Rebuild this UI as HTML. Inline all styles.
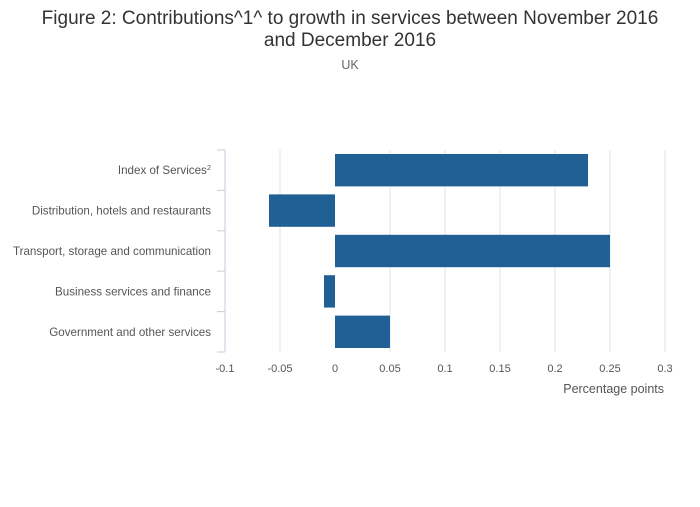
<!DOCTYPE html>
<html><head><meta charset="utf-8"><style>
body{margin:0;background:#fff;font-family:"Liberation Sans",sans-serif;}
svg text{font-family:"Liberation Sans",sans-serif;}
</style></head><body>
<svg id="chart" width="700" height="502" xmlns="http://www.w3.org/2000/svg">
<text x="350" y="24" text-anchor="middle" font-size="19" fill="#333">Figure 2: Contributions^1^ to growth in services between November 2016</text>
<text x="350" y="46" text-anchor="middle" font-size="19" fill="#333">and December 2016</text>
<text x="350" y="69" text-anchor="middle" font-size="12.5" fill="#666">UK</text>
<g id="grid"></g><g id="bars"></g><g id="axes"></g>
<text x="664" y="393" text-anchor="end" font-size="12.5" fill="#555">Percentage points</text>
</svg>
<script>
const categories=["Index of Services","Distribution, hotels and restaurants","Transport, storage and communication","Business services and finance","Government and other services"];
const values=[0.23,-0.06,0.25,-0.01,0.05];
const ticks=[-0.1,-0.05,0,0.05,0.1,0.15,0.2,0.25,0.3];
const tickLabels=["-0.1","-0.05","0","0.05","0.1","0.15","0.2","0.25","0.3"];
const NS="http://www.w3.org/2000/svg";
const x0=225,x1=665,yTop=150,yBot=352,xmin=-0.1,xmax=0.3;
const xs=v=>x0+(v-xmin)/(xmax-xmin)*(x1-x0);
const rowH=(yBot-yTop)/categories.length;
const ys=i=>yTop+i*rowH;
function mk(t,a,p){const e=document.createElementNS(NS,t);for(const k in a)e.setAttribute(k,a[k]);p.appendChild(e);return e;}
const grid=document.getElementById('grid'),bars=document.getElementById('bars'),axes=document.getElementById('axes');
ticks.forEach((t,i)=>{
  if(i>0&&t!==0){const l=mk('line',{x1:xs(t),x2:xs(t),y1:yTop,y2:yBot,stroke:'#e3e3e3','stroke-width':1},grid);
  
  }
  const tx=mk('text',{x:xs(t),y:372,'text-anchor':'middle','font-size':11,fill:'#555'},axes);
  tx.textContent=tickLabels[i];
  
  
});
values.forEach((v,i)=>{
  const a=xs(Math.min(0,v)),b=xs(Math.max(0,v));
  const r=mk('rect',{x:a,y:ys(i)+4,width:b-a,height:rowH-8,fill:'#206095'},bars);
  
  
  const tx=mk('text',{x:211,y:ys(i)+rowH/2+4,'text-anchor':'end','font-size':11.6,fill:'#555'},axes);
  tx.textContent=categories[i];
  if(i===0){const s=mk('tspan',{'baseline-shift':'super','font-size':7.5},tx);s.textContent='2';}
  
  
});
const ax=mk('line',{x1:x0,x2:x0,y1:yTop,y2:yBot,stroke:'#c5cde0','stroke-width':1},axes);


for(let i=0;i<=categories.length;i++){
  const t=mk('line',{x1:x0-8,x2:x0,y1:ys(i),y2:ys(i),stroke:'#c5cde0','stroke-width':1},axes);
  
  
}
</script>
</body></html>
